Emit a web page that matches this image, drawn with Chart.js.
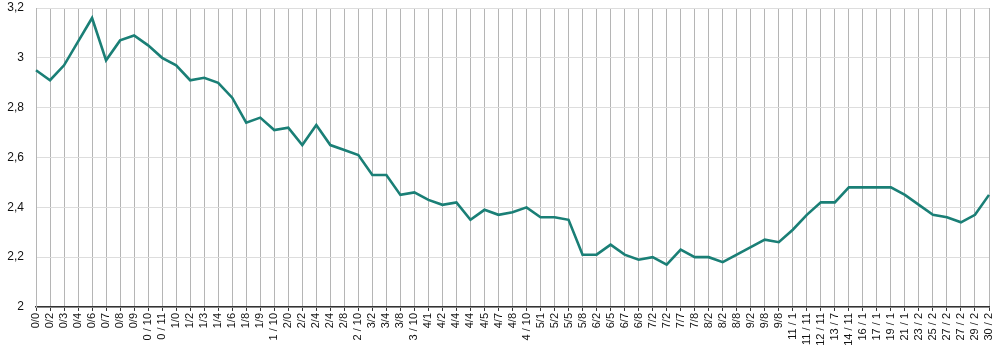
<!DOCTYPE html>
<html>
<head>
<meta charset="utf-8">
<script src="https://cdn.jsdelivr.net/npm/chart.js@4.4.1/dist/chart.umd.min.js"></script>
<style>
  html, body { margin: 0; padding: 0; background: #ffffff; }
  #wrap { width: 1000px; height: 354px; position: relative; }
</style>
</head>
<body>
<div id="wrap"><canvas id="c"></canvas></div>
<script>
const categories = [
  "0/0","0/2","0/3","0/4","0/6","0/7","0/8","0/9","0 / 10","0 / 11",
  "1/0","1/2","1/3","1/4","1/6","1/8","1/9","1 / 10","2/0","2/2",
  "2/4","2/4","2/8","2 / 10","3/2","3/4","3/8","3 / 10","4/1","4/2",
  "4/4","4/4","4/5","4/7","4/8","4 / 10","5/1","5/2","5/5","5/8",
  "6/2","6/5","6/7","6/8","7/2","7/2","7/7","7/8","8/2","8/2",
  "8/8","9/2","9/8","9/8","11 / 1","11 / 11","12 / 11","13 / 7","14 / 11","16 / 1",
  "17 / 1","19 / 1","21 / 1","23 / 2","25 / 2","27 / 2","27 / 2","29 / 2","30 / 2"
];

const values = [
  2.95, 2.91, 2.97, 3.065, 3.16, 2.99, 3.07, 3.09, 3.05, 3.00,
  2.97, 2.91, 2.92, 2.90, 2.84, 2.74, 2.76, 2.71, 2.72, 2.65,
  2.73, 2.65, 2.63, 2.61, 2.53, 2.53, 2.45, 2.46, 2.43, 2.41,
  2.42, 2.35, 2.39, 2.37, 2.38, 2.40, 2.36, 2.36, 2.35, 2.21,
  2.21, 2.25, 2.21, 2.19, 2.20, 2.17, 2.23, 2.20, 2.20, 2.18,
  2.21, 2.24, 2.27, 2.26, 2.31, 2.37, 2.42, 2.42, 2.48, 2.48,
  2.48, 2.48, 2.45, 2.41, 2.37, 2.36, 2.34, 2.37, 2.45
];

const yMin = 2;
const yMax = 3.2;
const yStep = 0.2;

const fontFamily = "'Liberation Sans', Arial, Helvetica, sans-serif";

new Chart(document.getElementById('c'), {
  type: 'line',
  data: {
    labels: categories,
    datasets: [{
      data: values,
      borderColor: '#1a7f76',
      backgroundColor: '#1a7f76',
      borderWidth: 2.6,
      pointRadius: 0,
      pointHoverRadius: 0,
      tension: 0,
      fill: false
    }]
  },
  options: {
    responsive: true,
    maintainAspectRatio: false,
    animation: false,
    layout: { padding: 0 },
    plugins: {
      legend: { display: false },
      tooltip: { enabled: false },
      title: { display: false }
    },
    scales: {
      x: {
        type: 'category',
        offset: false,
        grid: {
          display: true,
          color: '#b5b5b5',
          lineWidth: 1,
          drawTicks: true,
          tickLength: 4,
          tickColor: '#333333'
        },
        border: { display: true, color: '#333333', width: 1.5 },
        ticks: {
          autoSkip: false,
          maxRotation: 90,
          minRotation: 90,
          padding: 2,
          color: '#111111',
          font: { family: fontFamily, size: 11 }
        },
        afterFit: function(scale) {
          scale.height = 47;
          scale.paddingLeft = 0;
          scale.paddingRight = 11;
        }
      },
      y: {
        min: yMin,
        max: yMax,
        grid: {
          color: '#dddddd',
          lineWidth: 1,
          drawTicks: false
        },
        border: { display: true, color: '#b5b5b5', width: 1 },
        ticks: {
          stepSize: yStep,
          padding: 12,
          color: '#111111',
          font: { family: fontFamily, size: 12 },
          callback: function(v) {
            return Number(v.toFixed(1)).toString().replace('.', ',');
          }
        },
        afterFit: function(scale) {
          scale.width = 36;
          scale.paddingTop = 8;
          scale.paddingBottom = 0;
        }
      }
    }
  }
});
</script>
</body>
</html>
